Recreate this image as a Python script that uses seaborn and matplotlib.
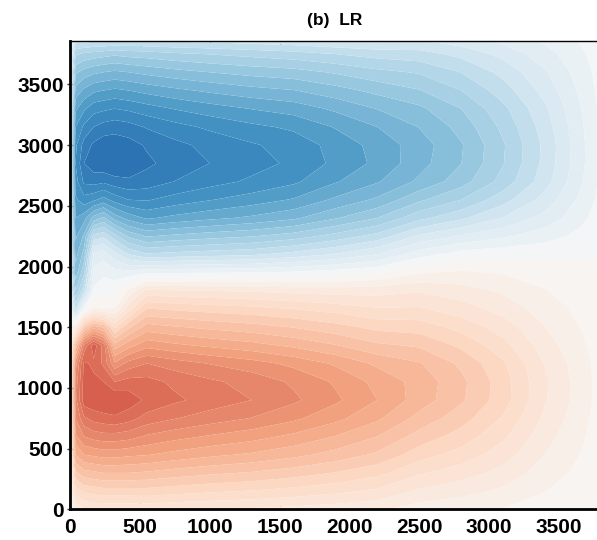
import numpy as np
import matplotlib
matplotlib.use("Agg")
import matplotlib.pyplot as plt
import matplotlib.colors as mcolors
import seaborn as sns

# grid nodes of the overturning field
x_nodes = [0, 40, 100, 170, 240, 320, 420, 550, 750, 1000, 1300, 1600,
           1900, 2200, 2500, 2800, 3100, 3400, 3650, 3790]
y_nodes = [0, 150, 300, 450, 600, 750, 900, 1050, 1200, 1350, 1500, 1650,
           1800, 1950, 2100, 2250, 2400, 2550, 2700, 2850, 3000, 3150, 3300,
           3450, 3600, 3750, 3860]

# one column of values (bottom to top) per x node
col_0000 = [0.2, 0.6, 0.9, 1.2, 1.4, 1.6, 1.7, 1.6, 1.5, 1.1, 0.3, -0.8, -1.6, -2.0,
            -2.2, -2.3, -2.4, -2.5, -2.6, -2.6, -2.5, -2.3, -2.0, -1.7, -1.4, -1.0, -0.6]
col_0040 = [1.0, 2.2, 3.4, 4.5, 5.4, 6.0, 6.3, 6.2, 5.8, 4.0, 1.0, -2.5, -4.0, -4.8,
            -5.2, -5.6, -6.0, -6.4, -6.8, -7.0, -6.9, -6.5, -5.9, -5.2, -4.4, -3.4, -2.3]
col_0100 = [1.5, 2.6, 3.8, 5.0, 6.0, 6.9, 7.8, 7.7, 7.6, 6.6, 3.3, -0.3, -2.6, -3.6,
            -4.3, -4.9, -5.7, -6.8, -7.6, -8.0, -7.7, -7.1, -6.4, -5.6, -4.7, -3.6, -2.3]
col_0170 = [1.6, 2.7, 3.9, 5.1, 6.2, 7.2, 7.9, 7.6, 7.4, 7.8, 4.3, 0.6, -0.4, -0.8,
            -1.4, -2.8, -4.8, -6.6, -7.7, -8.3, -8.1, -7.5, -6.8, -5.9, -4.9, -3.7, -2.4]
col_0240 = [1.6, 2.8, 4.0, 5.2, 6.3, 7.3, 8.0, 7.5, 6.9, 6.8, 3.9, 0.5, -0.2, -0.6,
            -1.2, -2.6, -4.4, -6.3, -7.6, -8.4, -8.3, -7.7, -6.9, -6.0, -5.0, -3.8, -2.4]
col_0320 = [1.6, 2.8, 4.0, 5.2, 6.3, 7.4, 8.0, 7.0, 5.6, 4.2, 2.4, 0.5, -0.1, -0.8,
            -1.8, -3.3, -5.2, -6.7, -7.8, -8.5, -8.3, -7.8, -7.0, -6.1, -5.1, -3.9, -2.5]
col_0420 = [1.6, 2.8, 4.0, 5.1, 6.2, 7.2, 7.8, 7.2, 6.2, 4.8, 3.4, 1.8, 0.6, -0.8,
            -2.5, -4.1, -5.7, -7.0, -7.9, -8.4, -8.2, -7.7, -6.9, -6.0, -5.0, -3.8, -2.5]
col_0550 = [1.63, 2.81, 3.92, 5.03, 5.92, 6.81, 7.40, 7.18, 6.51, 5.33, 4.22, 3.03, 1.63, -0.57,
            -2.92, -4.54, -6.08, -7.05, -7.78, -8.10, -7.94, -7.45, -6.72, -5.83, -4.86, -3.75, -2.45]
col_0750 = [1.56, 2.70, 3.76, 4.83, 5.68, 6.53, 7.10, 6.89, 6.25, 5.11, 4.05, 2.91, 1.56, -0.55,
            -2.81, -4.37, -5.85, -6.79, -7.49, -7.80, -7.64, -7.18, -6.47, -5.62, -4.68, -3.60, -2.40]
col_1000 = [1.50, 2.58, 3.60, 4.62, 5.44, 6.26, 6.80, 6.60, 5.98, 4.90, 3.88, 2.79, 1.50, -0.53,
            -2.70, -4.20, -5.63, -6.53, -7.20, -7.50, -7.35, -6.90, -6.23, -5.40, -4.50, -3.48, -2.35]
col_1300 = [1.43, 2.47, 3.45, 4.42, 5.20, 5.98, 6.50, 6.31, 5.72, 4.68, 3.71, 2.67, 1.43, -0.50,
            -2.59, -4.03, -5.40, -6.26, -6.91, -7.20, -7.06, -6.62, -5.98, -5.18, -4.32, -3.34, -2.25]
col_1600 = [1.34, 2.32, 3.23, 4.15, 4.88, 5.61, 6.10, 5.92, 5.37, 4.39, 3.48, 2.50, 1.34, -0.40,
            -2.30, -3.75, -5.10, -5.95, -6.60, -6.90, -6.80, -6.40, -5.78, -5.02, -4.20, -3.20, -2.15]
col_1900 = [1.23, 2.13, 2.97, 3.81, 4.48, 5.15, 5.60, 5.43, 4.93, 4.03, 3.19, 2.30, 1.28, -0.25,
            -1.95, -3.30, -4.55, -5.40, -6.05, -6.38, -6.32, -5.96, -5.40, -4.70, -3.94, -3.00, -2.00]
col_2200 = [1.10, 1.90, 2.65, 3.40, 4.00, 4.60, 5.00, 4.85, 4.40, 3.60, 2.85, 2.05, 1.30, -0.05,
            -1.50, -2.80, -4.00, -4.90, -5.55, -5.88, -5.82, -5.50, -4.98, -4.35, -3.64, -2.80, -1.90]
col_2500 = [0.75, 1.41, 2.07, 2.73, 3.30, 3.83, 4.27, 4.31, 4.05, 3.43, 2.77, 2.07, 1.45, 0.45,
            -0.70, -1.90, -3.15, -4.10, -4.90, -5.19, -5.25, -4.98, -4.61, -4.03, -3.45, -2.70, -2.01]
col_2800 = [0.63, 1.18, 1.74, 2.29, 2.78, 3.22, 3.59, 3.63, 3.40, 2.89, 2.33, 1.74, 1.22, 0.59,
            -0.25, -1.45, -2.60, -3.50, -4.23, -4.51, -4.55, -4.32, -4.00, -3.50, -2.99, -2.35, -1.75]
col_3100 = [0.48, 0.90, 1.32, 1.74, 2.10, 2.44, 2.72, 2.74, 2.58, 2.18, 1.76, 1.32, 0.92, 0.45,
            -0.14, -1.08, -1.98, -2.70, -3.31, -3.53, -3.56, -3.38, -3.13, -2.74, -2.34, -1.84, -1.37]
col_3400 = [0.27, 0.51, 0.75, 0.99, 1.20, 1.39, 1.55, 1.57, 1.47, 1.25, 1.01, 0.75, 0.53, 0.26,
            -0.10, -0.72, -1.32, -1.80, -2.21, -2.35, -2.38, -2.26, -2.09, -1.82, -1.56, -1.22, -0.91]
col_3650 = [0.14, 0.26, 0.38, 0.50, 0.60, 0.70, 0.78, 0.78, 0.74, 0.62, 0.50, 0.38, 0.26, 0.13,
            -0.05, -0.36, -0.66, -0.90, -1.10, -1.18, -1.19, -1.13, -1.04, -0.91, -0.78, -0.61, -0.46]
col_3790 = [0.06, 0.11, 0.16, 0.22, 0.26, 0.30, 0.34, 0.34, 0.32, 0.27, 0.22, 0.16, 0.12, 0.06,
            -0.02, -0.15, -0.28, -0.38, -0.46, -0.49, -0.50, -0.47, -0.44, -0.38, -0.33, -0.26, -0.19]

columns = [col_0000, col_0040, col_0100, col_0170, col_0240, col_0320, col_0420,
           col_0550, col_0750, col_1000, col_1300, col_1600, col_1900, col_2200,
           col_2500, col_2800, col_3100, col_3400, col_3650, col_3790]

x_ticks = [0, 500, 1000, 1500, 2000, 2500, 3000, 3500]
y_ticks = [0, 500, 1000, 1500, 2000, 2500, 3000, 3500]
title = "(b)  LR"

sns.set_theme(style="white")
plt.rcParams["font.family"] = ["Liberation Sans", "DejaVu Sans"]
plt.rcParams["font.weight"] = "bold"
plt.rcParams["text.color"] = "black"

X, Y = np.meshgrid(np.array(x_nodes, float), np.array(y_nodes, float))
Z = np.column_stack(columns)

cmap = sns.color_palette("RdBu_r", as_cmap=True)
norm = mcolors.TwoSlopeNorm(vmin=-11.2, vcenter=0.0, vmax=12.9)
levels = np.arange(-9.0, 9.01, 0.5)

fig = plt.figure(figsize=(5.97, 5.40), dpi=100)
ax = fig.add_axes([70 / 597, (540 - 509.3) / 540, (597 - 70) / 597 + 0.004, (509.3 - 40.7) / 540])
ax.contourf(X, Y, Z, levels=levels, cmap=cmap, norm=norm, antialiased=True)

ax.set_xlim(0, 3790)
ax.set_ylim(0, 3860)
ax.set_xticks(x_ticks)
ax.set_yticks(y_ticks)
ax.set_xticklabels([str(t) for t in x_ticks], fontsize=15, fontweight="bold")
ax.set_yticklabels([str(t) for t in y_ticks], fontsize=15, fontweight="bold")

for side in ["left", "bottom"]:
    ax.spines[side].set_linewidth(2.0)
    ax.spines[side].set_color("black")
ax.spines["top"].set_linewidth(1.0)
ax.spines["top"].set_color("black")
ax.spines["right"].set_visible(False)

ax.tick_params(axis="x", which="both", direction="in", length=4, width=1,
               color="#333333", top=True, bottom=True, pad=6, labelcolor="black")
ax.tick_params(axis="y", which="both", direction="inout", length=5, width=1,
               color="#333333", left=True, right=False, pad=2, labelcolor="black")

ax.set_title(title, fontsize=12.5, fontweight="bold", pad=11, color="black")

fig.savefig("out.png", dpi=100)
